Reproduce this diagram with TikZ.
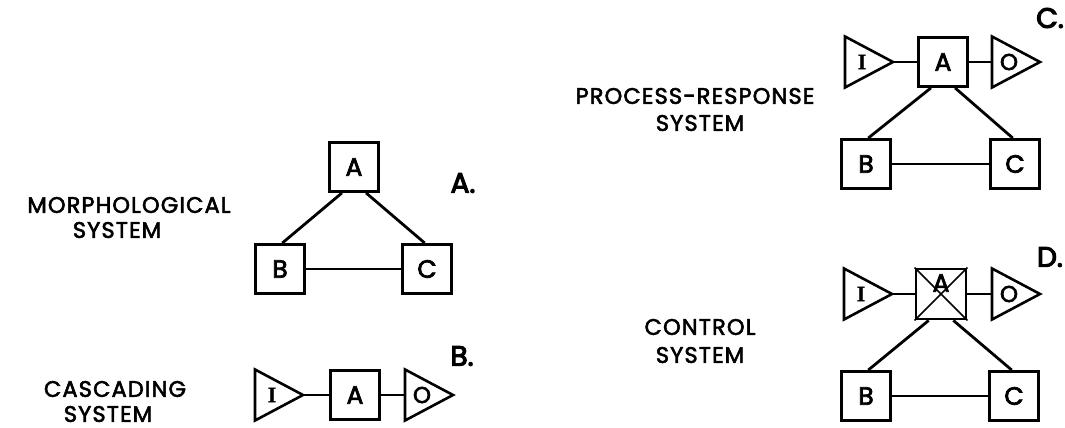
\documentclass[tikz,border=0pt]{standalone}
\usepackage{fontspec}
\usetikzlibrary{shapes.geometric,calc}
\newfontfamily\labfont[LetterSpace=5,FakeBold=2.5]{Poppins}
\newfontfamily\boxfontfam[FakeBold=3]{Poppins}
\newfontfamily\panelfontfam[FakeBold=4]{Poppins}
\newfontfamily\serfont[FakeBold=1]{Liberation Serif}
\tikzset{
  lab/.style={font=\labfont\fontsize{22.5}{26}\selectfont, inner sep=0, anchor=center},
  panel/.style={font=\panelfontfam\fontsize{28}{30}\selectfont, inner sep=0},
  sysbox/.style={draw, line width=2.9pt, minimum size=49pt, inner sep=0,
    font=\boxfontfam\fontsize{25}{26}\selectfont},
  tri/.style={draw, isosceles triangle, isosceles triangle stretches,
    shape border rotate=0, minimum height=48pt, minimum width=51pt,
    inner sep=0, outer sep=0, line width=2.6pt, anchor=apex},
  lnk/.style={line width=2.8pt},
  thinx/.style={line width=1.6pt},
  ltrI/.style={font=\serfont\bfseries\fontsize{22}{22}\selectfont, inner sep=0},
  ltrO/.style={font=\boxfontfam\fontsize{23}{23}\selectfont, inner sep=0},
}
\begin{document}
\begin{tikzpicture}[x=1pt,y=-1pt]
\useasboundingbox (0,0) rectangle (1065,428);
% ---------- Panel A: morphological
\node[lab] (tA1) at (129,205) {MORPHOLOGICAL};
\node[lab] (tA2) at (117,230) {SYSTEM};
\node[panel] (pA) at (463,183) {A.};
\node[sysbox] (aA) at (354,167) {A};
\node[sysbox] (aB) at (280,269) {B};
\node[sysbox] (aC) at (427,269) {C};
\draw[lnk] (aA.245) -- (aB.85);
\draw[lnk] (aA.295) -- (aC.95);
\draw[lnk] (aB.east) -- (aC.west);
% ---------- Panel B: cascading
\node[lab] (tB1) at (115,389) {CASCADING};
\node[lab] (tB2) at (108,414) {SYSTEM};
\node[panel] (pB) at (462,356) {B.};
\node[tri] (bI) at (303,395) {};
\node[ltrI] (bIt) at ($(bI.west)+(17,0)$) {I};
\node[sysbox] (bA) at (355,395) {A};
\node[tri] (bO) at (453,395) {};
\node[ltrO] (bOt) at ($(bO.west)+(17,0)$) {O};
\draw[lnk] (bI.apex) -- (bA.west);
\draw[lnk] (bA.east) -- (bO.west);
% ---------- Panel C: process-response
\node[lab] (tC1) at (695,96) {PROCESS-RESPONSE};
\node[lab] (tC2) at (700,123) {SYSTEM};
\node[panel] (pC) at (1050,18) {C.};
\node[tri] (cI) at (893,62) {};
\node[ltrI] (cIt) at ($(cI.west)+(17,0)$) {I};
\node[sysbox] (cA) at (943,62) {A};
\node[tri] (cO) at (1040,62) {};
\node[ltrO] (cOt) at ($(cO.west)+(17,0)$) {O};
\node[sysbox] (cB) at (866,164) {B};
\node[sysbox] (cC) at (1015,164) {C};
\draw[lnk] (cI.apex) -- (cA.west);
\draw[lnk] (cA.east) -- (cO.west);
\draw[lnk] (cA.245) -- (cB.85);
\draw[lnk] (cA.295) -- (cC.95);
\draw[lnk] (cB.east) -- (cC.west);
% ---------- Panel D: control
\node[lab] (tD1) at (700,327) {CONTROL};
\node[lab] (tD2) at (700,355) {SYSTEM};
\node[panel, anchor=east] (pD) at (1063,257) {D.};
\node[tri] (dI) at (892,294) {};
\node[ltrI] (dIt) at ($(dI.west)+(17,0)$) {I};
\node[sysbox, minimum size=50pt] (dA) at (941,294) {};
\node[font=\boxfontfam\fontsize{25}{26}\selectfont, inner sep=0] (dAt) at ($(dA.center)+(0,-11)$) {A};
\draw[thinx] (dA.north west) -- (dA.south east);
\draw[thinx] (dA.north east) -- (dA.south west);
\node[tri] (dO) at (1040,294) {};
\node[ltrO] (dOt) at ($(dO.west)+(17,0)$) {O};
\node[sysbox] (dB) at (866,396) {B};
\node[sysbox] (dC) at (1014,396) {C};
\draw[lnk] (dI.apex) -- (dA.west);
\draw[lnk] (dA.east) -- (dO.west);
\draw[lnk] (dA.245) -- (dB.85);
\draw[lnk] (dA.295) -- (dC.95);
\draw[lnk] (dB.east) -- (dC.west);
\end{tikzpicture}
\end{document}
